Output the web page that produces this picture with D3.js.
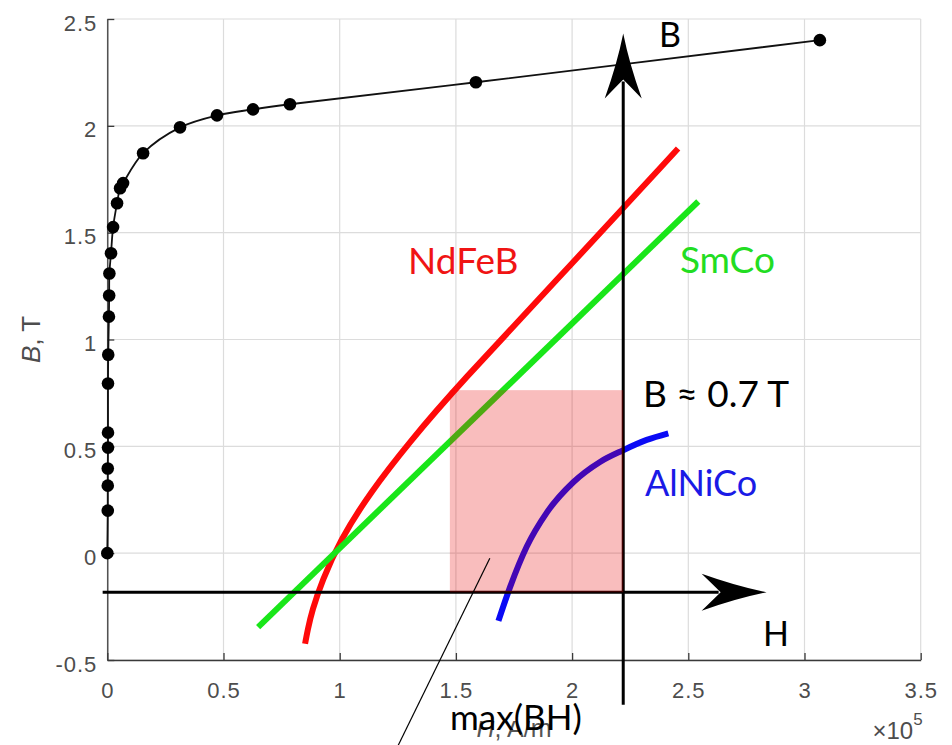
<!DOCTYPE html>
<html>
<head>
<meta charset="utf-8">
<script src="https://cdn.jsdelivr.net/npm/d3@7/dist/d3.min.js"></script>
<style>
	body { margin: 0; background: #fff; }
	svg { display: block; }
	.axis .tick text { font-family: "Liberation Sans", Arial, sans-serif; font-size: 22px; fill: #4d4d4d; letter-spacing: 1px; }
	.axis path, .axis line { stroke: #3a3a3a; stroke-width: 1.3; }
	.grid line { stroke: #dcdcdc; stroke-width: 1.2; }
	.ann { font-family: Lato, "Open Sans", sans-serif; }
</style>
</head>
<body>
<div id="chart"></div>
<script>
// measured B-H curve, H in 1e5 A/m, B in T
const curveH = [0, 0.002, 0.002, 0.002, 0.003, 0.003, 0.003, 0.004, 0.007, 0.008, 0.009, 0.016, 0.025, 0.042, 0.055, 0.068, 0.154, 0.313, 0.472, 0.627, 0.786, 1.586, 3.066];
const curveB = [0, 0.199, 0.316, 0.396, 0.494, 0.564, 0.794, 0.929, 1.107, 1.206, 1.309, 1.404, 1.526, 1.638, 1.708, 1.732, 1.872, 1.993, 2.049, 2.077, 2.101, 2.204, 2.401];

// sketched demagnetization curves
const ndfebH = [0.851, 0.862, 0.881, 0.924, 1.001, 1.13, 1.302, 1.496, 2.0, 2.456];
const ndfebB = [-0.424, -0.36, -0.269, -0.129, 0.059, 0.283, 0.522, 0.77, 1.355, 1.894];
const smcoH = [0.649, 2.543];
const smcoB = [-0.346, 1.646];
const alnicoH = [1.683, 1.733, 1.805, 1.891, 2.005, 2.12, 2.22, 2.321, 2.414];
const alnicoB = [-0.317, -0.159, 0.031, 0.19, 0.332, 0.427, 0.482, 0.53, 0.561];

// working point box and the B/H arrows
const boxH = [1.474, 2.22];
const boxB = [-0.183, 0.763];
const hArrowH = [-0.02, 2.837];
const bArrowB = [-0.71, 2.432];

const xTicks = [0, 0.5, 1, 1.5, 2, 2.5, 3, 3.5];
const yTicks = [-0.5, 0, 0.5, 1, 1.5, 2, 2.5];

const labelText = ['NdFeB', 'SmCo', 'B \u2248 0.7 T', 'AlNiCo', 'B', 'H', 'max(BH)'];
const labelH = [1.294, 2.464, 2.305, 2.314, 2.374, 2.821, 1.475];
const labelB = [1.305, 1.309, 0.683, 0.269, 2.371, -0.433, -0.826];
const leaderH = [1.646, 1.251];
const leaderB = [-0.024, -0.901];

const options = {
	w: 952, h: 745,
	mTop: 19, mRight: 31.3, mBottom: 85, mLeft: 107.3
};
const labelColor = ['#f01414', '#22dd22', '#000', '#1a1ae6', '#000', '#000', '#000'];
const labelSize = [37, 37, 37, 36, 34, 34, 35];

const width = options.w - options.mLeft - options.mRight,
	height = options.h - options.mTop - options.mBottom;

const svg = d3.select('#chart').append('svg')
	.attr('width', options.w)
	.attr('height', options.h);
const g = svg.append('g')
	.attr('transform', 'translate(' + options.mLeft + ',' + options.mTop + ')');

const x = d3.scaleLinear().domain([0, 3.5]).range([0, width]),
	y = d3.scaleLinear().domain([-0.5, 2.5]).range([height, 0]);

// grid
const grid = g.append('g').classed('grid', true);
grid.selectAll('.gx').data(xTicks).enter().append('line')
	.attr('x1', d => x(d)).attr('x2', d => x(d))
	.attr('y1', 0).attr('y2', height);
grid.selectAll('.gy').data(yTicks).enter().append('line')
	.attr('x1', 0).attr('x2', width)
	.attr('y1', d => y(d)).attr('y2', d => y(d));

// axes
g.append('g')
	.classed('axis', true)
	.attr('transform', 'translate(0,' + height + ')')
	.call(d3.axisBottom(x).tickValues(xTicks).tickSizeInner(-7).tickSizeOuter(0).tickPadding(22).tickFormat(d => String(d)));
g.append('g')
	.classed('axis', true)
	.call(d3.axisLeft(y).tickValues(yTicks).tickSizeInner(-7).tickSizeOuter(0).tickPadding(10).tickFormat(d => String(d)))
	.selectAll('.tick text').attr('dy', '0.5em');

// axis labels
const xl = g.append('text')
	.attr('x', width / 2).attr('y', height + 77)
	.attr('text-anchor', 'middle')
	.style('font-family', '"Liberation Sans", Arial, sans-serif')
	.style('font-size', '25px').style('fill', '#555');
xl.append('tspan').style('font-style', 'italic').text('H');
xl.append('tspan').text(', A/m');

const yl = g.append('text')
	.attr('transform', 'translate(' + (-67) + ',' + (height / 2) + ') rotate(-90)')
	.attr('text-anchor', 'middle')
	.style('font-family', '"Liberation Sans", Arial, sans-serif')
	.style('font-size', '26px').style('fill', '#4d4d4d');
yl.append('tspan').style('font-style', 'italic').text('B');
yl.append('tspan').text(', T');

const exp = g.append('text')
	.attr('x', width + 2).attr('y', height + 79)
	.attr('text-anchor', 'end')
	.style('font-family', '"Liberation Sans", Arial, sans-serif')
	.style('font-size', '24px').style('fill', '#4d4d4d');
exp.append('tspan').text('\u00d710');
exp.append('tspan').attr('dy', -14).style('font-size', '17px').text('5');

// B-H curve with points
const pts = curveH.map((h, i) => ({h: h, b: curveB[i]}));
const line = d3.line().x(d => x(d.h)).y(d => y(d.b));
g.append('path')
	.datum(pts)
	.attr('d', line.curve(d3.curveCatmullRom.alpha(0.5)))
	.attr('fill', 'none').attr('stroke', '#111').attr('stroke-width', 1.8);
g.selectAll('.dot').data(pts).enter().append('circle')
	.attr('cx', d => x(d.h)).attr('cy', d => y(d.b)).attr('r', 6.3)
	.attr('fill', '#000');

// magnet curves
const mag = [
	{h: ndfebH, b: ndfebB, c: '#ff0a0a', k: d3.curveBasis},
	{h: smcoH, b: smcoB, c: '#19e619', k: d3.curveLinear},
	{h: alnicoH, b: alnicoB, c: '#0a0af5', k: d3.curveMonotoneX}
];
mag.forEach(m => {
	const mline = d3.line().x(d => x(d.h)).y(d => y(d.b)).curve(m.k);
	g.append('path')
		.datum(m.h.map((h, i) => ({h: h, b: m.b[i]})))
		.attr('d', mline)
		.attr('fill', 'none').attr('stroke', m.c).attr('stroke-width', 6);
});

// arrows
const head = 'M0,0 Q-30,-6 -65,-18.5 Q-52,-6 -46,0 Q-52,6 -65,18.5 Q-30,6 0,0Z';
g.append('line')
	.attr('x1', x(hArrowH[0])).attr('x2', x(hArrowH[1]) - 48)
	.attr('y1', y(boxB[0])).attr('y2', y(boxB[0]))
	.attr('stroke', '#000').attr('stroke-width', 3);
g.append('path')
	.attr('d', head)
	.attr('transform', 'translate(' + x(hArrowH[1]) + ',' + y(boxB[0]) + ')');
g.append('line')
	.attr('x1', x(boxH[1])).attr('x2', x(boxH[1]))
	.attr('y1', y(bArrowB[0])).attr('y2', y(bArrowB[1]) + 48)
	.attr('stroke', '#000').attr('stroke-width', 3);
g.append('path')
	.attr('d', head)
	.attr('transform', 'translate(' + x(boxH[1]) + ',' + y(bArrowB[1]) + ') rotate(-90)');

// max(BH) rectangle, drawn over the curves
g.append('rect')
	.attr('x', x(boxH[0])).attr('y', y(boxB[1]))
	.attr('width', x(boxH[1]) - x(boxH[0]))
	.attr('height', y(boxB[0]) - y(boxB[1]))
	.attr('fill', '#e60000').attr('fill-opacity', 0.26);

g.append('line')
	.attr('x1', x(leaderH[0])).attr('y1', y(leaderB[0]))
	.attr('x2', x(leaderH[1])).attr('y2', y(leaderB[1]))
	.attr('stroke', '#000').attr('stroke-width', 1.2);

// white patch behind max(BH)
g.append('rect')
	.attr('x', x(labelH[6]) - 4).attr('y', height + 41)
	.attr('width', 150).attr('height', 20)
	.attr('fill', '#fff');

g.selectAll('.ann').data(labelText).enter().append('text')
	.classed('ann', true)
	.attr('x', (d, i) => x(labelH[i]))
	.attr('y', (d, i) => y(labelB[i]))
	.style('font-size', (d, i) => labelSize[i] + 'px')
	.style('fill', (d, i) => labelColor[i])
	.text(d => d);
</script>
</body>
</html>
